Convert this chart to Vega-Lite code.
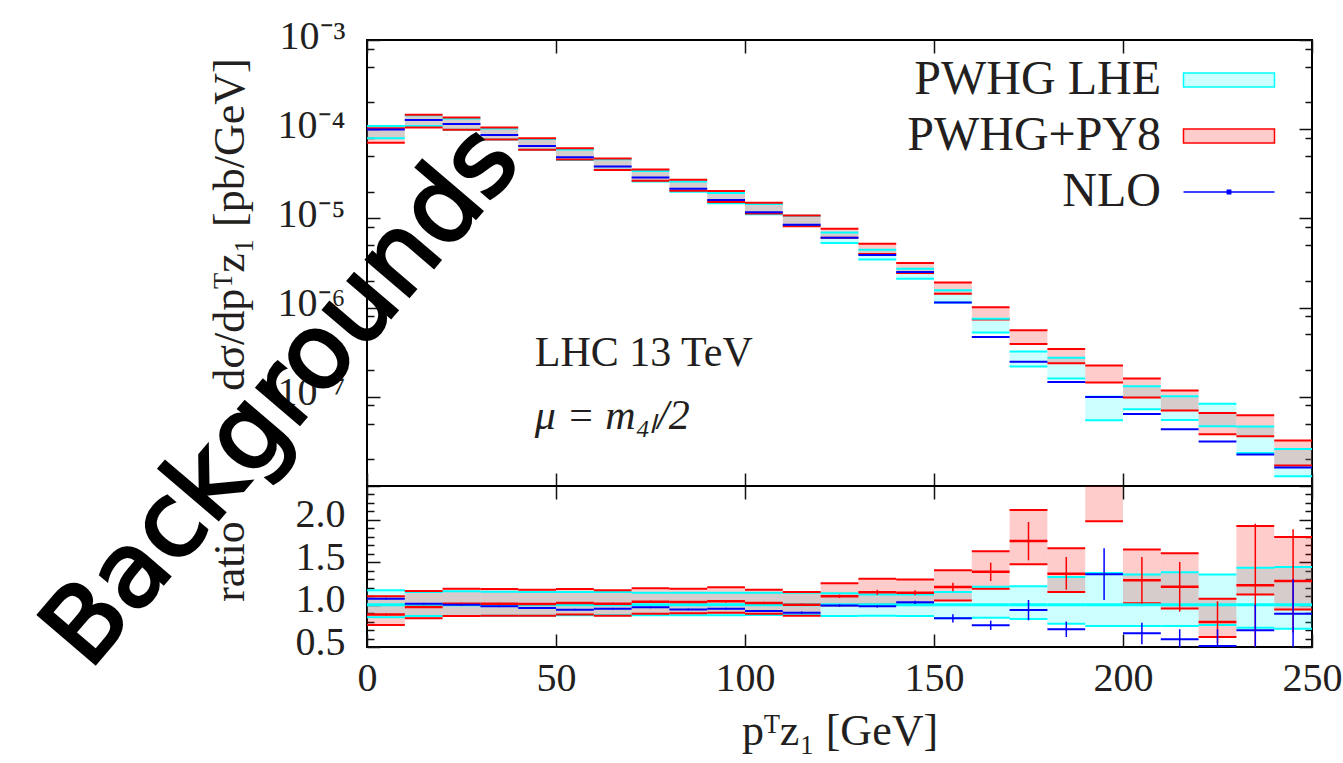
{
  "$schema": "https://vega.github.io/schema/vega-lite/v6.json",
  "background": "white",
  "padding": {"left": 25, "top": 15, "right": 0, "bottom": 0},
  "spacing": 0,
  "bounds": "flush",
  "config": {
    "view": {"stroke": "#000000", "strokeWidth": 2},
    "font": "Liberation Serif",
    "axis": {
      "domain": false, "grid": false,
      "tickColor": "#111111", "tickWidth": 1.5,
      "labelFont": "Liberation Serif", "labelFontSize": 40, "labelColor": "#231f20",
      "titleFont": "Liberation Serif", "titleFontSize": 44, "titleFontWeight": "normal", "titleColor": "#231f20",
      "labelOverlap": false, "labelFlush": false, "labelBound": false
    }
  },
  "resolve": {"scale": {"fill": "independent", "stroke": "independent", "strokeWidth": "independent"}},
  "datasets": {
    "spectrum": [
      {"pt0": 0, "pt1": 10, "gen": "PWHG LHE", "lo": 7.9e-5, "hi": 1.088e-4},
      {"pt0": 10, "pt1": 20, "gen": "PWHG LHE", "lo": 1.083e-4, "hi": 1.438e-4},
      {"pt0": 20, "pt1": 30, "gen": "PWHG LHE", "lo": 9.87e-5, "hi": 1.319e-4},
      {"pt0": 30, "pt1": 40, "gen": "PWHG LHE", "lo": 7.66e-5, "hi": 1.015e-4},
      {"pt0": 40, "pt1": 50, "gen": "PWHG LHE", "lo": 5.87e-5, "hi": 7.76e-5},
      {"pt0": 50, "pt1": 60, "gen": "PWHG LHE", "lo": 4.51e-5, "hi": 5.92e-5},
      {"pt0": 60, "pt1": 70, "gen": "PWHG LHE", "lo": 3.5e-5, "hi": 4.6e-5},
      {"pt0": 70, "pt1": 80, "gen": "PWHG LHE", "lo": 2.6e-5, "hi": 3.39e-5},
      {"pt0": 80, "pt1": 90, "gen": "PWHG LHE", "lo": 1.995e-5, "hi": 2.6e-5},
      {"pt0": 90, "pt1": 100, "gen": "PWHG LHE", "lo": 1.479e-5, "hi": 1.927e-5},
      {"pt0": 100, "pt1": 110, "gen": "PWHG LHE", "lo": 1.115e-5, "hi": 1.448e-5},
      {"pt0": 110, "pt1": 120, "gen": "PWHG LHE", "lo": 8.25e-6, "hi": 1.072e-5},
      {"pt0": 120, "pt1": 130, "gen": "PWHG LHE", "lo": 5.31e-6, "hi": 6.95e-6},
      {"pt0": 130, "pt1": 140, "gen": "PWHG LHE", "lo": 3.46e-6, "hi": 4.46e-6},
      {"pt0": 140, "pt1": 150, "gen": "PWHG LHE", "lo": 2.11e-6, "hi": 2.73e-6},
      {"pt0": 150, "pt1": 160, "gen": "PWHG LHE", "lo": 1.14e-6, "hi": 1.563e-6},
      {"pt0": 160, "pt1": 170, "gen": "PWHG LHE", "lo": 5.25e-7, "hi": 7.51e-7},
      {"pt0": 170, "pt1": 180, "gen": "PWHG LHE", "lo": 2.19e-7, "hi": 3.21e-7},
      {"pt0": 180, "pt1": 190, "gen": "PWHG LHE", "lo": 1.6e-7, "hi": 2.74e-7},
      {"pt0": 190, "pt1": 200, "gen": "PWHG LHE", "lo": 5.46e-8, "hi": 1.0e-7},
      {"pt0": 200, "pt1": 210, "gen": "PWHG LHE", "lo": 7.26e-8, "hi": 1.316e-7},
      {"pt0": 210, "pt1": 220, "gen": "PWHG LHE", "lo": 5.5e-8, "hi": 1.015e-7},
      {"pt0": 220, "pt1": 230, "gen": "PWHG LHE", "lo": 4.67e-8, "hi": 8.35e-8},
      {"pt0": 230, "pt1": 240, "gen": "PWHG LHE", "lo": 2.35e-8, "hi": 4.64e-8},
      {"pt0": 240, "pt1": 250, "gen": "PWHG LHE", "lo": 1.29e-8, "hi": 2.6e-8},
      {"pt0": 0, "pt1": 10, "gen": "PWHG+PY8", "lo": 7.07e-5, "hi": 1.023e-4},
      {"pt0": 10, "pt1": 20, "gen": "PWHG+PY8", "lo": 1.048e-4, "hi": 1.451e-4},
      {"pt0": 20, "pt1": 30, "gen": "PWHG+PY8", "lo": 9.87e-5, "hi": 1.354e-4},
      {"pt0": 30, "pt1": 40, "gen": "PWHG+PY8", "lo": 7.66e-5, "hi": 1.042e-4},
      {"pt0": 40, "pt1": 50, "gen": "PWHG+PY8", "lo": 5.87e-5, "hi": 7.94e-5},
      {"pt0": 50, "pt1": 60, "gen": "PWHG+PY8", "lo": 4.56e-5, "hi": 6.1e-5},
      {"pt0": 60, "pt1": 70, "gen": "PWHG+PY8", "lo": 3.48e-5, "hi": 4.68e-5},
      {"pt0": 70, "pt1": 80, "gen": "PWHG+PY8", "lo": 2.65e-5, "hi": 3.54e-5},
      {"pt0": 80, "pt1": 90, "gen": "PWHG+PY8", "lo": 2.045e-5, "hi": 2.71e-5},
      {"pt0": 90, "pt1": 100, "gen": "PWHG+PY8", "lo": 1.529e-5, "hi": 2.035e-5},
      {"pt0": 100, "pt1": 110, "gen": "PWHG+PY8", "lo": 1.134e-5, "hi": 1.495e-5},
      {"pt0": 110, "pt1": 120, "gen": "PWHG+PY8", "lo": 8.18e-6, "hi": 1.08e-5},
      {"pt0": 120, "pt1": 130, "gen": "PWHG+PY8", "lo": 6.07e-6, "hi": 7.67e-6},
      {"pt0": 130, "pt1": 140, "gen": "PWHG+PY8", "lo": 3.98e-6, "hi": 5.2e-6},
      {"pt0": 140, "pt1": 150, "gen": "PWHG+PY8", "lo": 2.447e-6, "hi": 3.17e-6},
      {"pt0": 150, "pt1": 160, "gen": "PWHG+PY8", "lo": 1.428e-6, "hi": 1.911e-6},
      {"pt0": 160, "pt1": 170, "gen": "PWHG+PY8", "lo": 7.37e-7, "hi": 1.01e-6},
      {"pt0": 170, "pt1": 180, "gen": "PWHG+PY8", "lo": 3.9e-7, "hi": 5.59e-7},
      {"pt0": 180, "pt1": 190, "gen": "PWHG+PY8", "lo": 2.38e-7, "hi": 3.44e-7},
      {"pt0": 190, "pt1": 200, "gen": "PWHG+PY8", "lo": 1.448e-7, "hi": 2.25e-7},
      {"pt0": 200, "pt1": 210, "gen": "PWHG+PY8", "lo": 9.85e-8, "hi": 1.6e-7},
      {"pt0": 210, "pt1": 220, "gen": "PWHG+PY8", "lo": 7.0e-8, "hi": 1.18e-7},
      {"pt0": 220, "pt1": 230, "gen": "PWHG+PY8", "lo": 3.8e-8, "hi": 6.58e-8},
      {"pt0": 230, "pt1": 240, "gen": "PWHG+PY8", "lo": 3.62e-8, "hi": 6.23e-8},
      {"pt0": 240, "pt1": 250, "gen": "PWHG+PY8", "lo": 1.7e-8, "hi": 3.24e-8},
      {"pt0": 0, "pt1": 10, "gen": "NLO", "c": 9.95e-5},
      {"pt0": 10, "pt1": 20, "gen": "NLO", "c": 1.264e-4},
      {"pt0": 20, "pt1": 30, "gen": "NLO", "c": 1.14e-4},
      {"pt0": 30, "pt1": 40, "gen": "NLO", "c": 8.62e-5},
      {"pt0": 40, "pt1": 50, "gen": "NLO", "c": 6.48e-5},
      {"pt0": 50, "pt1": 60, "gen": "NLO", "c": 4.84e-5},
      {"pt0": 60, "pt1": 70, "gen": "NLO", "c": 3.81e-5},
      {"pt0": 70, "pt1": 80, "gen": "NLO", "c": 2.87e-5},
      {"pt0": 80, "pt1": 90, "gen": "NLO", "c": 2.15e-5},
      {"pt0": 90, "pt1": 100, "gen": "NLO", "c": 1.609e-5},
      {"pt0": 100, "pt1": 110, "gen": "NLO", "c": 1.175e-5},
      {"pt0": 110, "pt1": 120, "gen": "NLO", "c": 8.51e-6},
      {"pt0": 120, "pt1": 130, "gen": "NLO", "c": 6.07e-6},
      {"pt0": 130, "pt1": 140, "gen": "NLO", "c": 3.9e-6},
      {"pt0": 140, "pt1": 150, "gen": "NLO", "c": 2.506e-6},
      {"pt0": 150, "pt1": 160, "gen": "NLO", "c": 1.14e-6},
      {"pt0": 160, "pt1": 170, "gen": "NLO", "c": 4.69e-7},
      {"pt0": 170, "pt1": 180, "gen": "NLO", "c": 2.47e-7},
      {"pt0": 180, "pt1": 190, "gen": "NLO", "c": 1.47e-7},
      {"pt0": 190, "pt1": 200, "gen": "NLO", "c": 9.93e-8},
      {"pt0": 200, "pt1": 210, "gen": "NLO", "c": 6.41e-8},
      {"pt0": 210, "pt1": 220, "gen": "NLO", "c": 4.34e-8},
      {"pt0": 220, "pt1": 230, "gen": "NLO", "c": 3.15e-8},
      {"pt0": 230, "pt1": 240, "gen": "NLO", "c": 2.25e-8},
      {"pt0": 240, "pt1": 250, "gen": "NLO", "c": 1.61e-8}
    ],
    "ratio": [
      {"pt0": 0, "pt1": 10, "mid": 5, "gen": "PWHG LHE", "lo": 0.85, "hi": 1.17, "c": 1},
      {"pt0": 10, "pt1": 20, "mid": 15, "gen": "PWHG LHE", "lo": 0.866, "hi": 1.15, "c": 1},
      {"pt0": 20, "pt1": 30, "mid": 25, "gen": "PWHG LHE", "lo": 0.866, "hi": 1.157, "c": 1},
      {"pt0": 30, "pt1": 40, "mid": 35, "gen": "PWHG LHE", "lo": 0.87, "hi": 1.153, "c": 1},
      {"pt0": 40, "pt1": 50, "mid": 45, "gen": "PWHG LHE", "lo": 0.87, "hi": 1.15, "c": 1},
      {"pt0": 50, "pt1": 60, "mid": 55, "gen": "PWHG LHE", "lo": 0.875, "hi": 1.15, "c": 1},
      {"pt0": 60, "pt1": 70, "mid": 65, "gen": "PWHG LHE", "lo": 0.875, "hi": 1.15, "c": 1},
      {"pt0": 70, "pt1": 80, "mid": 75, "gen": "PWHG LHE", "lo": 0.875, "hi": 1.141, "c": 1},
      {"pt0": 80, "pt1": 90, "mid": 85, "gen": "PWHG LHE", "lo": 0.875, "hi": 1.14, "c": 1},
      {"pt0": 90, "pt1": 100, "mid": 95, "gen": "PWHG LHE", "lo": 0.875, "hi": 1.14, "c": 1},
      {"pt0": 100, "pt1": 110, "mid": 105, "gen": "PWHG LHE", "lo": 0.878, "hi": 1.14, "c": 1},
      {"pt0": 110, "pt1": 120, "mid": 115, "gen": "PWHG LHE", "lo": 0.878, "hi": 1.14, "c": 1},
      {"pt0": 120, "pt1": 130, "mid": 125, "gen": "PWHG LHE", "lo": 0.866, "hi": 1.133, "c": 1},
      {"pt0": 130, "pt1": 140, "mid": 135, "gen": "PWHG LHE", "lo": 0.87, "hi": 1.121, "c": 1},
      {"pt0": 140, "pt1": 150, "mid": 145, "gen": "PWHG LHE", "lo": 0.866, "hi": 1.12, "c": 1},
      {"pt0": 150, "pt1": 160, "mid": 155, "gen": "PWHG LHE", "lo": 0.838, "hi": 1.149, "c": 1},
      {"pt0": 160, "pt1": 170, "mid": 165, "gen": "PWHG LHE", "lo": 0.846, "hi": 1.212, "c": 1},
      {"pt0": 170, "pt1": 180, "mid": 175, "gen": "PWHG LHE", "lo": 0.83, "hi": 1.216, "c": 1},
      {"pt0": 180, "pt1": 190, "mid": 185, "gen": "PWHG LHE", "lo": 0.775, "hi": 1.326, "c": 1},
      {"pt0": 190, "pt1": 200, "mid": 195, "gen": "PWHG LHE", "lo": 0.748, "hi": 1.373, "c": 1},
      {"pt0": 200, "pt1": 210, "mid": 205, "gen": "PWHG LHE", "lo": 0.748, "hi": 1.357, "c": 1},
      {"pt0": 210, "pt1": 220, "mid": 215, "gen": "PWHG LHE", "lo": 0.748, "hi": 1.381, "c": 1},
      {"pt0": 220, "pt1": 230, "mid": 225, "gen": "PWHG LHE", "lo": 0.76, "hi": 1.357, "c": 1},
      {"pt0": 230, "pt1": 240, "mid": 235, "gen": "PWHG LHE", "lo": 0.728, "hi": 1.436, "c": 1},
      {"pt0": 240, "pt1": 250, "mid": 245, "gen": "PWHG LHE", "lo": 0.716, "hi": 1.444, "c": 1},
      {"pt0": 0, "pt1": 10, "mid": 5, "gen": "PWHG+PY8", "lo": 0.76, "hi": 1.10, "c": 0.885, "elo": 0.873, "ehi": 0.897},
      {"pt0": 10, "pt1": 20, "mid": 15, "gen": "PWHG+PY8", "lo": 0.838, "hi": 1.161, "c": 0.972, "elo": 0.96, "ehi": 0.984},
      {"pt0": 20, "pt1": 30, "mid": 25, "gen": "PWHG+PY8", "lo": 0.866, "hi": 1.188, "c": 1.011, "elo": 0.999, "ehi": 1.023},
      {"pt0": 30, "pt1": 40, "mid": 35, "gen": "PWHG+PY8", "lo": 0.87, "hi": 1.184, "c": 1.011, "elo": 0.999, "ehi": 1.023},
      {"pt0": 40, "pt1": 50, "mid": 45, "gen": "PWHG+PY8", "lo": 0.87, "hi": 1.177, "c": 1.007, "elo": 0.995, "ehi": 1.019},
      {"pt0": 50, "pt1": 60, "mid": 55, "gen": "PWHG+PY8", "lo": 0.885, "hi": 1.184, "c": 1.019, "elo": 1.007, "ehi": 1.031},
      {"pt0": 60, "pt1": 70, "mid": 65, "gen": "PWHG+PY8", "lo": 0.87, "hi": 1.169, "c": 1.01, "elo": 0.998, "ehi": 1.022},
      {"pt0": 70, "pt1": 80, "mid": 75, "gen": "PWHG+PY8", "lo": 0.893, "hi": 1.192, "c": 1.035, "elo": 1.022, "ehi": 1.048},
      {"pt0": 80, "pt1": 90, "mid": 85, "gen": "PWHG+PY8", "lo": 0.897, "hi": 1.188, "c": 1.031, "elo": 1.018, "ehi": 1.044},
      {"pt0": 90, "pt1": 100, "mid": 95, "gen": "PWHG+PY8", "lo": 0.905, "hi": 1.204, "c": 1.039, "elo": 1.024, "ehi": 1.054},
      {"pt0": 100, "pt1": 110, "mid": 105, "gen": "PWHG+PY8", "lo": 0.893, "hi": 1.177, "c": 1.019, "elo": 1.004, "ehi": 1.034},
      {"pt0": 110, "pt1": 120, "mid": 115, "gen": "PWHG+PY8", "lo": 0.87, "hi": 1.149, "c": 1.0, "elo": 0.985, "ehi": 1.015},
      {"pt0": 120, "pt1": 130, "mid": 125, "gen": "PWHG+PY8", "lo": 0.99, "hi": 1.251, "c": 1.098, "elo": 1.078, "ehi": 1.118},
      {"pt0": 130, "pt1": 140, "mid": 135, "gen": "PWHG+PY8", "lo": 1.0, "hi": 1.306, "c": 1.145, "elo": 1.115, "ehi": 1.175},
      {"pt0": 140, "pt1": 150, "mid": 145, "gen": "PWHG+PY8", "lo": 1.003, "hi": 1.298, "c": 1.141, "elo": 1.111, "ehi": 1.171},
      {"pt0": 150, "pt1": 160, "mid": 155, "gen": "PWHG+PY8", "lo": 1.05, "hi": 1.405, "c": 1.208, "elo": 1.158, "ehi": 1.258},
      {"pt0": 160, "pt1": 170, "mid": 165, "gen": "PWHG+PY8", "lo": 1.188, "hi": 1.629, "c": 1.389, "elo": 1.279, "ehi": 1.495},
      {"pt0": 170, "pt1": 180, "mid": 175, "gen": "PWHG+PY8", "lo": 1.476, "hi": 2.117, "c": 1.751, "elo": 1.523, "ehi": 1.975},
      {"pt0": 180, "pt1": 190, "mid": 185, "gen": "PWHG+PY8", "lo": 1.149, "hi": 1.664, "c": 1.365, "elo": 1.177, "ehi": 1.562},
      {"pt0": 190, "pt1": 200, "mid": 195, "gen": "PWHG+PY8", "lo": 1.983, "hi": 3.08, "c": 2.6, "elo": 2.45, "ehi": 2.75},
      {"pt0": 200, "pt1": 210, "mid": 205, "gen": "PWHG+PY8", "lo": 1.015, "hi": 1.652, "c": 1.287, "elo": 1.011, "ehi": 1.562},
      {"pt0": 210, "pt1": 220, "mid": 215, "gen": "PWHG+PY8", "lo": 0.953, "hi": 1.605, "c": 1.212, "elo": 0.917, "ehi": 1.503},
      {"pt0": 220, "pt1": 230, "mid": 225, "gen": "PWHG+PY8", "lo": 0.618, "hi": 1.07, "c": 0.795, "elo": 0.55, "ehi": 1.04},
      {"pt0": 230, "pt1": 240, "mid": 235, "gen": "PWHG+PY8", "lo": 1.121, "hi": 1.928, "c": 1.23, "elo": 0.5, "ehi": 1.955},
      {"pt0": 240, "pt1": 250, "mid": 245, "gen": "PWHG+PY8", "lo": 0.944, "hi": 1.798, "c": 1.279, "elo": 0.67, "ehi": 1.889},
      {"pt0": 0, "pt1": 10, "mid": 5, "gen": "NLO", "c": 1.07, "elo": 1.06, "ehi": 1.08},
      {"pt0": 10, "pt1": 20, "mid": 15, "gen": "NLO", "c": 1.011, "elo": 1.001, "ehi": 1.021},
      {"pt0": 20, "pt1": 30, "mid": 25, "gen": "NLO", "c": 1.0, "elo": 0.99, "ehi": 1.01},
      {"pt0": 30, "pt1": 40, "mid": 35, "gen": "NLO", "c": 0.98, "elo": 0.97, "ehi": 0.99},
      {"pt0": 40, "pt1": 50, "mid": 45, "gen": "NLO", "c": 0.96, "elo": 0.95, "ehi": 0.97},
      {"pt0": 50, "pt1": 60, "mid": 55, "gen": "NLO", "c": 0.94, "elo": 0.93, "ehi": 0.95},
      {"pt0": 60, "pt1": 70, "mid": 65, "gen": "NLO", "c": 0.952, "elo": 0.942, "ehi": 0.962},
      {"pt0": 70, "pt1": 80, "mid": 75, "gen": "NLO", "c": 0.968, "elo": 0.958, "ehi": 0.978},
      {"pt0": 80, "pt1": 90, "mid": 85, "gen": "NLO", "c": 0.944, "elo": 0.934, "ehi": 0.954},
      {"pt0": 90, "pt1": 100, "mid": 95, "gen": "NLO", "c": 0.952, "elo": 0.94, "ehi": 0.964},
      {"pt0": 100, "pt1": 110, "mid": 105, "gen": "NLO", "c": 0.925, "elo": 0.912, "ehi": 0.938},
      {"pt0": 110, "pt1": 120, "mid": 115, "gen": "NLO", "c": 0.905, "elo": 0.89, "ehi": 0.92},
      {"pt0": 120, "pt1": 130, "mid": 125, "gen": "NLO", "c": 0.99, "elo": 0.975, "ehi": 1.005},
      {"pt0": 130, "pt1": 140, "mid": 135, "gen": "NLO", "c": 0.98, "elo": 0.965, "ehi": 0.995},
      {"pt0": 140, "pt1": 150, "mid": 145, "gen": "NLO", "c": 1.027, "elo": 1.007, "ehi": 1.047},
      {"pt0": 150, "pt1": 160, "mid": 155, "gen": "NLO", "c": 0.838, "elo": 0.79, "ehi": 0.886},
      {"pt0": 160, "pt1": 170, "mid": 165, "gen": "NLO", "c": 0.756, "elo": 0.701, "ehi": 0.811},
      {"pt0": 170, "pt1": 180, "mid": 175, "gen": "NLO", "c": 0.937, "elo": 0.815, "ehi": 1.055},
      {"pt0": 180, "pt1": 190, "mid": 185, "gen": "NLO", "c": 0.708, "elo": 0.618, "ehi": 0.799},
      {"pt0": 190, "pt1": 200, "mid": 195, "gen": "NLO", "c": 1.36, "elo": 1.055, "ehi": 1.664},
      {"pt0": 200, "pt1": 210, "mid": 205, "gen": "NLO", "c": 0.661, "elo": 0.531, "ehi": 0.787},
      {"pt0": 210, "pt1": 220, "mid": 215, "gen": "NLO", "c": 0.59, "elo": 0.47, "ehi": 0.71},
      {"pt0": 220, "pt1": 230, "mid": 225, "gen": "NLO", "c": 0.512, "elo": 0.31, "ehi": 0.71},
      {"pt0": 230, "pt1": 240, "mid": 235, "gen": "NLO", "c": 0.697, "elo": 0.4, "ehi": 1.0},
      {"pt0": 240, "pt1": 250, "mid": 245, "gen": "NLO", "c": 0.893, "elo": 0.48, "ehi": 1.3}
    ]
  },
  "vconcat": [
    {
      "width": 945,
      "height": 446,
      "resolve": {"axis": {"x": "independent", "y": "independent"}},
      "layer": [
        {
          "data": {"name": "spectrum"},
          "transform": [{"filter": "datum.gen !== 'NLO'"}],
          "mark": {"type": "rect", "fillOpacity": 0.2, "strokeWidth": 0, "clip": true},
          "encoding": {
            "x": {"field": "pt0", "type": "quantitative", "scale": {"domain": [0, 250], "nice": false, "zero": false},
                  "axis": {"orient": "bottom", "values": [0, 50, 100, 150, 200, 250], "labels": false, "tickSize": -13, "title": null}},
            "x2": {"field": "pt1"},
            "y": {"field": "lo", "type": "quantitative", "scale": {"type": "log", "domain": [1e-8, 1e-3], "nice": false},
                  "axis": {"orient": "left", "values": [1e-8, 1e-7, 1e-6, 1e-5, 1e-4, 1e-3], "tickSize": -13, "labelPadding": 35, "labelOffset": -4,
                           "labelExpr": "datum.value > 5e-4 ? '10⁻³' : datum.value > 5e-5 ? '10⁻⁴' : datum.value > 5e-6 ? '10⁻⁵' : datum.value > 5e-7 ? '10⁻⁶' : datum.value > 5e-8 ? '10⁻⁷' : ''",
                           "title": "dσ/dpᵀz₁ [pb/GeV]", "titleX": -124, "titleY": 184, "titleBaseline": "alphabetic"}},
            "y2": {"field": "hi"},
            "fill": {
              "field": "gen", "type": "nominal",
              "scale": {"domain": ["PWHG LHE", "PWHG+PY8", "NLO"], "range": ["#00ffff", "#ff0000", "#0000ff"]},
              "legend": {
                "orient": "none", "legendX": 838, "legendY": 16, "direction": "vertical", "title": null,
                "labelAlign": "right", "labelOffset": -92, "labelFont": "Liberation Serif", "labelFontSize": 48,
                "labelColor": "#231f20", "labelLimit": 0, "symbolSize": 784, "symbolStrokeWidth": 1.5,
                "rowPadding": 8, "padding": 0,
                "encode": {
                  "symbols": {
                    "update": {
                      "shape": {"signal": "datum.value === 'NLO' ? 'M-3.25,0H3.25M-0.12,-0.12H0.12V0.12H-0.12Z' : 'M-3.25,-0.5H3.25V0.5H-3.25Z'"},
                      "fillOpacity": {"signal": "datum.value === 'NLO' ? 1 : 0.2"},
                      "stroke": {"signal": "datum.value === 'PWHG LHE' ? '#00ffff' : datum.value === 'PWHG+PY8' ? '#ff0000' : '#0000ff'"},
                      "strokeWidth": {"value": 1.5}
                    }
                  }
                }
              }
            }
          }
        },
        {
          "data": {"name": "spectrum"},
          "transform": [{"filter": "datum.gen !== 'NLO'"}],
          "mark": {"type": "rule", "strokeWidth": 2, "clip": true},
          "encoding": {
            "x": {"field": "pt0", "type": "quantitative", "axis": {"orient": "top", "values": [0, 50, 100, 150, 200, 250], "labels": false, "tickSize": -13, "title": null}},
            "x2": {"field": "pt1"},
            "y": {"field": "lo", "type": "quantitative", "axis": {"orient": "right", "values": [1e-8, 1e-7, 1e-6, 1e-5, 1e-4, 1e-3], "labels": false, "tickSize": -13, "title": null}},
            "stroke": {"field": "gen", "type": "nominal", "scale": {"domain": ["PWHG LHE", "PWHG+PY8", "NLO"], "range": ["#00ffff", "#ff0000", "#0000ff"]}, "legend": null}
          }
        },
        {
          "data": {"name": "spectrum"},
          "transform": [{"filter": "datum.gen !== 'NLO'"}],
          "mark": {"type": "rule", "strokeWidth": 2, "clip": true},
          "encoding": {
            "x": {"field": "pt0", "type": "quantitative", "axis": null},
            "x2": {"field": "pt1"},
            "y": {"field": "hi", "type": "quantitative", "axis": {"orient": "left", "values": [2e-8, 5e-8, 8e-8, 2e-7, 5e-7, 8e-7, 2e-6, 5e-6, 8e-6, 2e-5, 5e-5, 8e-5, 2e-4, 5e-4, 8e-4], "labels": false, "tickSize": -7, "title": null}},
            "stroke": {"field": "gen", "type": "nominal", "legend": null}
          }
        },
        {
          "data": {"name": "spectrum"},
          "transform": [{"filter": "datum.gen === 'NLO'"}],
          "mark": {"type": "rule", "strokeWidth": 2, "color": "#0000ff", "clip": true},
          "encoding": {
            "x": {"field": "pt0", "type": "quantitative", "axis": null},
            "x2": {"field": "pt1"},
            "y": {"field": "c", "type": "quantitative", "axis": {"orient": "right", "values": [2e-8, 5e-8, 8e-8, 2e-7, 5e-7, 8e-7, 2e-6, 5e-6, 8e-6, 2e-5, 5e-5, 8e-5, 2e-4, 5e-4, 8e-4], "labels": false, "tickSize": -7, "title": null}}
          }
        },
        {
          "data": {"values": [{}]},
          "mark": {"type": "text", "text": "LHC 13 TeV", "align": "left", "baseline": "alphabetic", "font": "Liberation Serif", "fontSize": 42, "color": "#231f20"},
          "encoding": {
            "x": {"datum": 44.4, "type": "quantitative", "axis": null},
            "y": {"datum": 2.214e-7, "type": "quantitative", "axis": null}
          }
        },
        {
          "data": {"values": [{}]},
          "mark": {"type": "text", "text": "μ = m₄ₗ/2", "align": "left", "baseline": "alphabetic", "font": "Liberation Serif", "fontSize": 42, "fontStyle": "italic", "color": "#231f20"},
          "encoding": {
            "x": {"datum": 44.4, "type": "quantitative", "axis": null},
            "y": {"datum": 4.35e-8, "type": "quantitative", "axis": null}
          }
        }
      ]
    },
    {
      "width": 945,
      "height": 161,
      "resolve": {"axis": {"x": "independent", "y": "independent"}},
      "layer": [
        {
          "data": {"name": "ratio"},
          "transform": [{"filter": "datum.gen !== 'NLO'"}],
          "mark": {"type": "rect", "fillOpacity": 0.2, "strokeWidth": 0, "clip": true},
          "encoding": {
            "x": {"field": "pt0", "type": "quantitative", "scale": {"domain": [0, 250], "nice": false, "zero": false},
                  "axis": {"orient": "bottom", "values": [0, 50, 100, 150, 200, 250], "format": "d", "tickSize": -13, "labelPadding": 24,
                           "title": "pᵀz₁ [GeV]", "titleY": 97, "titleBaseline": "alphabetic"}},
            "x2": {"field": "pt1"},
            "y": {"field": "lo", "type": "quantitative", "scale": {"domain": [0.5, 2.4], "nice": false, "zero": false},
                  "axis": {"orient": "left", "values": [0.5, 1.0, 1.5, 2.0], "format": ".1f", "tickSize": -13, "labelPadding": 35, "labelOffset": -5,
                           "title": "ratio", "titleX": -124, "titleY": 75, "titleBaseline": "alphabetic"}},
            "y2": {"field": "hi"},
            "fill": {"field": "gen", "type": "nominal", "scale": {"domain": ["PWHG LHE", "PWHG+PY8", "NLO"], "range": ["#00ffff", "#ff0000", "#0000ff"]}, "legend": null}
          }
        },
        {
          "data": {"name": "ratio"},
          "transform": [{"filter": "datum.gen !== 'NLO'"}],
          "mark": {"type": "rule", "strokeWidth": 2, "clip": true},
          "encoding": {
            "x": {"field": "pt0", "type": "quantitative", "axis": {"orient": "top", "values": [0, 50, 100, 150, 200, 250], "labels": false, "tickSize": -13, "title": null}},
            "x2": {"field": "pt1"},
            "y": {"field": "lo", "type": "quantitative", "axis": {"orient": "right", "values": [0.5, 1.0, 1.5, 2.0], "labels": false, "tickSize": -13, "title": null}},
            "stroke": {"field": "gen", "type": "nominal", "scale": {"domain": ["PWHG LHE", "PWHG+PY8", "NLO"], "range": ["#00ffff", "#ff0000", "#0000ff"]}, "legend": null}
          }
        },
        {
          "data": {"name": "ratio"},
          "transform": [{"filter": "datum.gen !== 'NLO'"}],
          "mark": {"type": "rule", "strokeWidth": 2, "clip": true},
          "encoding": {
            "x": {"field": "pt0", "type": "quantitative", "axis": null},
            "x2": {"field": "pt1"},
            "y": {"field": "hi", "type": "quantitative", "axis": {"orient": "left", "values": [0.6, 0.7, 0.8, 0.9, 1.1, 1.2, 1.3, 1.4, 1.6, 1.7, 1.8, 1.9, 2.1, 2.2, 2.3], "labels": false, "tickSize": -7, "title": null}},
            "stroke": {"field": "gen", "type": "nominal", "legend": null}
          }
        },
        {
          "data": {"name": "ratio"},
          "mark": {"type": "rule", "clip": true},
          "encoding": {
            "x": {"field": "pt0", "type": "quantitative", "axis": null},
            "x2": {"field": "pt1"},
            "y": {"field": "c", "type": "quantitative", "axis": {"orient": "right", "values": [0.6, 0.7, 0.8, 0.9, 1.1, 1.2, 1.3, 1.4, 1.6, 1.7, 1.8, 1.9, 2.1, 2.2, 2.3], "labels": false, "tickSize": -7, "title": null}},
            "stroke": {"field": "gen", "type": "nominal", "legend": null},
            "strokeWidth": {"field": "gen", "type": "nominal", "scale": {"domain": ["PWHG LHE", "PWHG+PY8", "NLO"], "range": [3, 2, 2]}, "legend": null}
          }
        },
        {
          "data": {"name": "ratio"},
          "transform": [{"filter": "datum.gen !== 'PWHG LHE'"}],
          "mark": {"type": "rule", "strokeWidth": 1.5, "clip": true},
          "encoding": {
            "x": {"field": "mid", "type": "quantitative", "axis": null},
            "y": {"field": "elo", "type": "quantitative", "axis": null},
            "y2": {"field": "ehi"},
            "stroke": {"field": "gen", "type": "nominal", "legend": null}
          }
        },
        {
          "data": {"values": [{}]},
          "mark": {"type": "text", "text": "Backgrounds", "align": "center", "baseline": "middle", "angle": -49.5, "font": "DejaVu Sans", "fontSize": 103, "color": "#000000", "stroke": "#000000", "strokeWidth": 3},
          "encoding": {
            "x": {"datum": -22.4, "type": "quantitative", "axis": null},
            "y": {"datum": 3.45, "type": "quantitative", "axis": null}
          }
        }
      ]
    }
  ]
}
